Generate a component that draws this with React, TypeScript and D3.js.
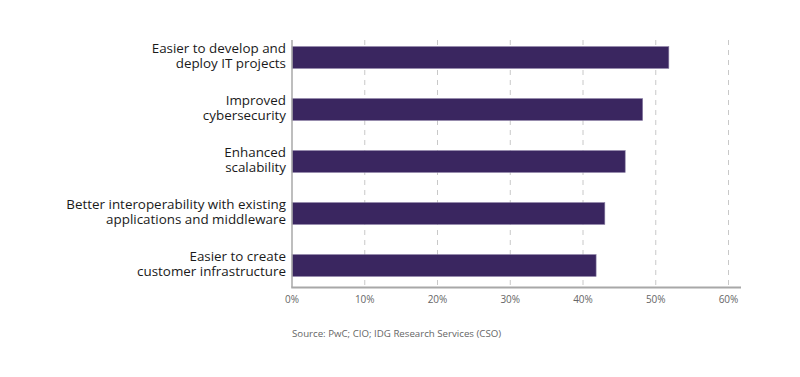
import React from "react";
import * as d3 from "d3";

const categories: string[][] = [
  ["Easier to develop and", "deploy IT projects"],
  ["Improved", "cybersecurity"],
  ["Enhanced", "scalability"],
  ["Better interoperability with existing", "applications and middleware"],
  ["Easier to create", "customer infrastructure"],
];
const values: number[] = [51.8, 48.2, 45.8, 43.0, 41.8];
const ticks: number[] = [0, 10, 20, 30, 40, 50, 60];
const source = "Source: PwC; CIO; IDG Research Services (CSO)";

const W = 800;
const H = 377;
const left = 292;
const right = 728.5;
const top = 40;
const bottom = 287.5;
const font = "'Open Sans', 'Noto Sans', sans-serif";

export default function App() {
  const x = d3.scaleLinear().domain([0, 60]).range([left, right]);
  const y = d3
    .scaleBand<number>()
    .domain(d3.range(categories.length))
    .range([31.5, 291.5])
    .paddingInner(0.58)
    .paddingOuter(0.29);
  return (
    <svg
      width={W}
      height={H}
      style={{ position: "absolute", left: 0, top: 0, background: "#fff" }}
      fontFamily={font}
    >
      {ticks.slice(1).map((t) => (
        <line
          key={t}
          x1={x(t)}
          x2={x(t)}
          y1={top}
          y2={bottom}
          stroke="#c8c8c8"
          strokeWidth={1}
          strokeDasharray="5,5"
        />
      ))}
      {values.map((v, i) => (
        <rect
          key={i}
          x={x(0)}
          y={y(i)}
          width={x(v) - x(0)}
          height={y.bandwidth()}
          fill="#3a2660"
          stroke="#8a7fa4"
          strokeWidth={0.6}
        />
      ))}
      <line x1={left} x2={left} y1={top} y2={bottom} stroke="#a8a8a8" strokeWidth={1.5} />
      <line x1={left - 0.75} x2={741} y1={bottom} y2={bottom} stroke="#a8a8a8" strokeWidth={2} />
      {ticks.map((t) => (
        <text
          key={t}
          x={x(t)}
          y={303}
          textAnchor="middle"
          fontSize={10}
          fill="#666"
        >
          {t}%
        </text>
      ))}
      {categories.map((lines, i) => {
        const cy = (y(i) as number) + y.bandwidth() / 2;
        return (
          <text key={i} x={286} textAnchor="end" fontSize={13.4} fill="#1a1a1a">
            {lines.map((l, j) => (
              <tspan key={j} x={286} y={cy - 5 + j * 15.5}>
                {l}
              </tspan>
            ))}
          </text>
        );
      })}
      <text x={292} y={336.5} fontSize={9.7} fill="#666">
        {source}
      </text>
    </svg>
  );
}
